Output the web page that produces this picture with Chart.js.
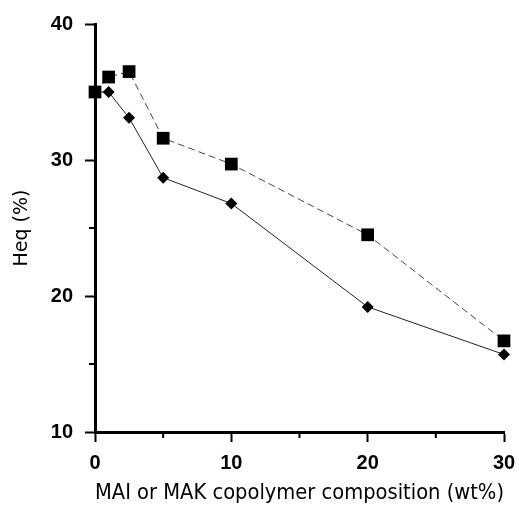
<!DOCTYPE html>
<html>
<head>
<meta charset="utf-8">
<script src="https://cdn.jsdelivr.net/npm/chart.js@4/dist/chart.umd.min.js"></script>
<style>
  html, body { margin: 0; padding: 0; background: #fff; }
  #wrap { width: 519px; height: 506px; }
</style>
</head>
<body>
<div id="wrap"><canvas id="heqChart" width="519" height="506"></canvas></div>
<script>
// copolymer composition (wt%)
const composition = [0, 1, 2.5, 5, 10, 20, 30];
// Heq (%) - square markers, dashed line
const heqSquares = [35, 36.1, 36.5, 31.6, 29.7, 24.5, 16.7];
// Heq (%) - diamond markers, solid line
const heqDiamonds = [35, 35, 33.1, 28.7, 26.8, 19.2, 15.7];

const xMajor = [0, 10, 20, 30];
const yMajor = [10, 20, 30, 40];

const toPoints = (xs, ys) => xs.map((x, i) => ({ x: x, y: ys[i] }));

// minor ticks are drawn shorter than the labelled ones
const minorTicks = {
    id: "minorTicks",
    afterDraw(chart) {
        const c = chart.ctx;
        const xs = chart.scales.x, ys = chart.scales.y;
        c.save();
        c.strokeStyle = "#000";
        c.lineWidth = 2;
        [5, 15, 25].forEach(v => {
            const px = xs.getPixelForValue(v);
            c.beginPath();
            c.moveTo(px, chart.chartArea.bottom);
            c.lineTo(px, chart.chartArea.bottom + 6);
            c.stroke();
        });
        [15, 25, 35].forEach(v => {
            const py = ys.getPixelForValue(v);
            c.beginPath();
            c.moveTo(chart.chartArea.left, py);
            c.lineTo(chart.chartArea.left - 6, py);
            c.stroke();
        });
        c.restore();
    }
};

const isMajor = (list) => (ctx) => list.includes(ctx.tick.value) ? "#000" : "rgba(0,0,0,0)";

new Chart(document.getElementById("heqChart"), {
    type: "line",
    data: {
        datasets: [{
            label: "squares",
            data: toPoints(composition, heqSquares),
            borderColor: "#444",
            borderWidth: 1,
            borderDash: [7, 4],
            pointStyle: "rect",
            pointRadius: 9,
            pointBackgroundColor: "#000",
            pointBorderColor: "#000",
            pointBorderWidth: 0,
            clip: false,
            fill: false
        }, {
            label: "diamonds",
            data: toPoints(composition, heqDiamonds),
            borderColor: "#222",
            borderWidth: 1,
            pointStyle: "rectRot",
            pointRadius: 6,
            pointBackgroundColor: "#000",
            pointBorderColor: "#000",
            pointBorderWidth: 0,
            clip: false,
            fill: false
        }]
    },
    options: {
        responsive: false,
        animation: false,
        layout: { padding: { top: 24, right: 15, left: 0, bottom: 0 } },
        plugins: { legend: { display: false }, tooltip: { enabled: false } },
        scales: {
            x: {
                type: "linear",
                min: 0, max: 30,
                afterFit: (s) => { s.height = 74; s.paddingLeft = 0; s.paddingRight = 0; },
                ticks: {
                    stepSize: 5,
                    padding: 9,
                    color: "#000",
                    font: { family: "Liberation Sans", size: 20, weight: "bold" },
                    callback: (v) => xMajor.includes(v) ? v : ""
                },
                grid: { drawOnChartArea: false, tickLength: 10, tickWidth: 2, color: isMajor(xMajor) },
                border: { display: true, color: "#000", width: 3 },
                title: {
                    display: true,
                    text: "MAI or MAK copolymer composition (wt%)",
                    color: "#000",
                    font: { family: "DejaVu Sans", size: 21 },
                    padding: { top: 4, bottom: 0 }
                }
            },
            y: {
                min: 10, max: 40,
                afterFit: (s) => { s.width = 95; s.paddingTop = 0; s.paddingBottom = 0; },
                ticks: {
                    stepSize: 5,
                    padding: 12,
                    color: "#000",
                    font: { family: "Liberation Sans", size: 20, weight: "bold" },
                    callback: (v) => yMajor.includes(v) ? v : ""
                },
                grid: { drawOnChartArea: false, tickLength: 10, tickWidth: 2, color: isMajor(yMajor) },
                border: { display: true, color: "#000", width: 3 },
                title: {
                    display: true,
                    text: "Heq (%)",
                    color: "#000",
                    font: { family: "DejaVu Sans", size: 19 },
                    padding: { top: 11, bottom: 0 }
                }
            }
        }
    },
    plugins: [minorTicks]
});
</script>
</body>
</html>
